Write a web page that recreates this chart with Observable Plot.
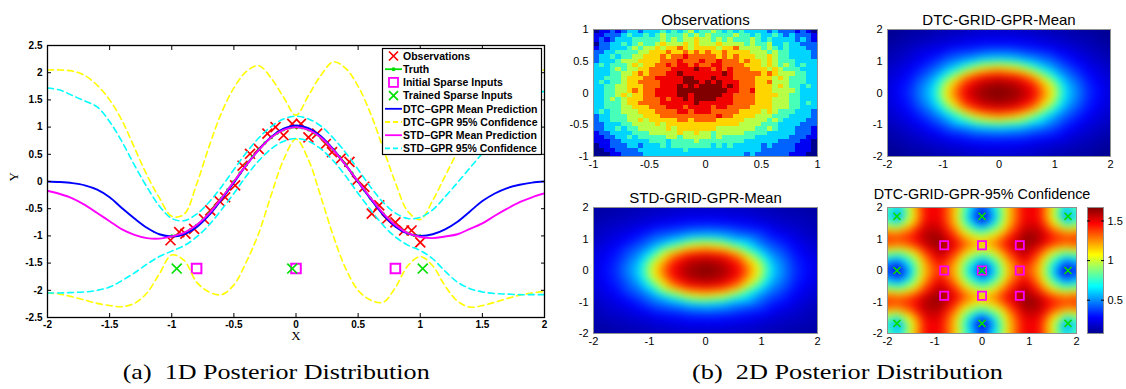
<!DOCTYPE html>
<html>
<head>
<meta charset="utf-8">
<script src="https://cdn.jsdelivr.net/npm/d3@7"></script>
<script src="https://cdn.jsdelivr.net/npm/@observablehq/plot@0.6"></script>
<style>
  html, body { margin: 0; padding: 0; background: #fff; }
  #figure { position: relative; width: 1126px; height: 389px; overflow: hidden; background: #fff; }
  .panel { position: absolute; }
  .panel svg { display: block; overflow: visible; }
</style>
</head>
<body>
<div id="figure"></div>
<script>
// ---------- (a) 1D posterior: sampled curves ----------
const xGrid = [-2.0,-1.9,-1.8,-1.7,-1.6,-1.5,-1.4,-1.3,-1.2,-1.1,-1.0,-0.9,-0.8,-0.7,-0.6,-0.5,-0.4,-0.3,-0.2,-0.1,0.0,
               0.1,0.2,0.3,0.4,0.5,0.6,0.7,0.8,0.9,1.0,1.1,1.2,1.3,1.4,1.5,1.6,1.7,1.8,1.9,2.0];
const dtcMean  = [0.00,-0.01,-0.03,-0.07,-0.15,-0.29,-0.49,-0.68,-0.85,-0.97,-1.01,-0.97,-0.84,-0.62,-0.33,-0.02,0.30,0.58,0.82,0.97,1.03,
                  0.98,0.83,0.59,0.30,-0.01,-0.32,-0.61,-0.83,-0.96,-1.00,-0.97,-0.88,-0.74,-0.55,-0.36,-0.22,-0.12,-0.06,-0.02,0.00];
const dtcUpper = [2.05,2.05,2.03,1.95,1.77,1.50,1.12,0.62,0.12,-0.30,-0.64,-0.60,-0.05,0.64,1.26,1.72,2.02,2.13,1.90,1.55,1.22,
                  1.58,1.95,2.20,2.08,1.75,1.25,0.62,-0.02,-0.55,-0.70,-0.35,0.10,0.55,0.98,1.36,1.68,1.90,2.02,2.05,2.05];
const dtcLower = [-2.05,-2.07,-2.12,-2.18,-2.24,-2.28,-2.30,-2.24,-2.05,-1.70,-1.35,-1.45,-1.85,-2.03,-2.08,-1.90,-1.48,-0.95,-0.25,0.40,0.78,
                  0.40,-0.28,-1.00,-1.60,-2.00,-2.18,-2.22,-1.95,-1.55,-1.38,-1.55,-1.92,-2.20,-2.31,-2.28,-2.22,-2.15,-2.09,-2.05,-2.02];
const stdMean  = [-0.17,-0.23,-0.31,-0.43,-0.58,-0.73,-0.88,-0.98,-1.04,-1.05,-1.01,-0.94,-0.80,-0.59,-0.31,0.00,0.30,0.58,0.81,0.95,1.00,
                  0.95,0.81,0.58,0.30,0.00,-0.30,-0.58,-0.80,-0.95,-1.02,-1.04,-1.01,-0.97,-0.87,-0.77,-0.63,-0.50,-0.38,-0.29,-0.22];
const stdUpper = [1.72,1.68,1.58,1.48,1.37,1.10,0.73,0.30,-0.10,-0.45,-0.68,-0.72,-0.60,-0.38,-0.10,0.22,0.53,0.80,1.01,1.15,1.20,
                  1.15,1.02,0.80,0.53,0.22,-0.10,-0.38,-0.58,-0.68,-0.66,-0.52,-0.28,-0.02,0.25,0.52,0.82,1.12,1.40,1.58,1.66];
const stdLower = [-2.05,-2.05,-2.04,-2.03,-2.00,-1.94,-1.82,-1.68,-1.52,-1.38,-1.28,-1.18,-1.02,-0.80,-0.52,-0.22,0.10,0.38,0.60,0.74,0.79,
                  0.74,0.60,0.38,0.10,-0.22,-0.52,-0.80,-1.02,-1.17,-1.27,-1.42,-1.65,-1.85,-1.97,-2.03,-2.06,-2.07,-2.08,-2.08,-2.08];

const truthX = [-1.00,-0.95,-0.90,-0.85,-0.80,-0.75,-0.70,-0.65,-0.60,-0.55,-0.50,-0.45,-0.40,-0.35,-0.30,-0.25,-0.20,-0.15,-0.10,-0.05,0.00,
                0.05,0.10,0.15,0.20,0.25,0.30,0.35,0.40,0.45,0.50,0.55,0.60,0.65,0.70,0.75,0.80,0.85,0.90,0.95,1.00];
const truthY = [-1.000,-0.988,-0.951,-0.891,-0.809,-0.707,-0.588,-0.454,-0.309,-0.156,0.000,0.156,0.309,0.454,0.588,0.707,0.809,0.891,0.951,0.988,1.000,
                0.988,0.951,0.891,0.809,0.707,0.588,0.454,0.309,0.156,0.000,-0.156,-0.309,-0.454,-0.588,-0.707,-0.809,-0.891,-0.951,-0.988,-1.000];

const obsX = [-1.01,-0.94,-0.89,-0.82,-0.74,-0.69,-0.62,-0.57,-0.49,-0.43,-0.37,-0.30,-0.23,-0.165,-0.10,-0.03,0.04,0.10,0.17,0.24,0.29,
              0.36,0.43,0.49,0.55,0.61,0.67,0.73,0.80,0.87,0.93,1.00];
const obsY = [-1.08,-0.93,-0.96,-0.87,-0.69,-0.53,-0.35,-0.29,-0.07,0.29,0.51,0.60,0.88,1.00,0.85,1.06,1.06,0.81,0.88,0.69,0.54,
              0.42,0.36,0.02,-0.10,-0.59,-0.44,-0.69,-0.75,-0.90,-0.90,-1.12];

const initX = [-0.80, 0.00, 0.80];
const initY = [-1.60, -1.60, -1.60];
const trainedX = [-0.96, -0.03, 1.02];
const trainedY = [-1.60, -1.60, -1.60];

const xTicks1d = [-2,-1.5,-1,-0.5,0,0.5,1,1.5,2];
const yTicks1d = [-2.5,-2,-1.5,-1,-0.5,0,0.5,1,1.5,2,2.5];

const legendLabels = ["Observations", "Truth", "Initial Sparse Inputs", "Trained Sparse Inputs",
  "DTC\u2212GPR Mean Prediction", "DTC\u2212GPR 95% Confidence", "STD\u2212GPR Mean Prediction", "STD\u2212GPR 95% Confidence"];

// ---------- (b) 2D posterior: grids ----------
// Observed values on a 40 x 30 grid over [-1,1]^2, one digit (0..9) per cell, top row first.
const obsLevels = [
  "0112123323 3343434534 4543434333 3232221210",
  "1122234334 3454445454 5444454434 3343232221",
  "1212333444 4454545565 5454544454 3433332321",
  "0223343454 4565556565 5565555454 4533433222",
  "1223334545 5656676566 6656675555 4543433322",
  "2233444455 6667667676 7667666655 5454433332",
  "2334344556 6676778777 7767676665 5654433332",
  "2333455566 6677787778 7787776766 5654443333",
  "3434445656 6778788787 7887777666 5654543433",
  "3334545566 7777888898 8787877766 6565444333",
  "3334455676 7778898888 8889877777 6765554433",
  "3344456667 7888889988 8988877776 6656544433",
  "3434456677 7788889998 9898887776 6755544433",
  "3344556667 7788898989 9998987776 6656544343",
  "3344556767 7888899999 9999887786 6655554333",
  "3344565667 7888899899 9998877776 6665544333",
  "3345456667 7787889899 9988877776 6655544333",
  "3344456677 7788888898 8888877776 6655544343",
  "3344455666 7778887888 8788777766 6655544333",
  "3434455566 6777788788 8777776666 5654443332",
  "2334445556 6677777777 7787766665 5544433332",
  "2334445565 6666677677 7766666555 5454333322",
  "2233344555 5656666666 6666665555 4443333222",
  "2233434455 5556566666 6655555554 4543332221",
  "1223333444 5555565565 5455555444 4333332221",
  "1122334344 4445545555 5454444443 3333322211",
  "1112233333 4443444454 4444444333 3332222110",
  "0112223323 3343444444 4343433333 2322221110",
  "0011222233 3333334333 3333333333 2222221110",
  "0001122223 3333333333 3333333232 2222211100"
];

// Posterior means sampled on a 13 x 13 grid over [-2,2]^2 (rows from y = 2 down to y = -2).
const meanGridX = [-2,-1.6,-1.2,-0.9,-0.6,-0.3,0,0.3,0.6,0.9,1.2,1.6,2];
const meanGridY = [2,1.5,1.1,0.8,0.5,0.25,0,-0.25,-0.5,-0.8,-1.1,-1.5,-2];
const stdMeanGrid = [
  [0.02,0.03,0.04,0.05,0.055,0.06,0.06,0.06,0.055,0.05,0.04,0.03,0.02],
  [0.04,0.06,0.08,0.10,0.12,0.135,0.14,0.135,0.12,0.10,0.08,0.06,0.04],
  [0.05,0.09,0.14,0.21,0.24,0.29,0.31,0.29,0.24,0.21,0.14,0.09,0.05],
  [0.07,0.115,0.20,0.29,0.43,0.59,0.65,0.59,0.43,0.29,0.20,0.115,0.07],
  [0.08,0.145,0.26,0.46,0.73,0.86,0.89,0.86,0.73,0.46,0.26,0.145,0.08],
  [0.09,0.16,0.31,0.61,0.84,0.94,0.97,0.94,0.84,0.61,0.31,0.16,0.09],
  [0.09,0.17,0.33,0.66,0.88,0.97,1.00,0.97,0.88,0.66,0.33,0.17,0.09],
  [0.09,0.16,0.31,0.61,0.84,0.94,0.97,0.94,0.84,0.61,0.31,0.16,0.09],
  [0.08,0.145,0.26,0.46,0.73,0.86,0.89,0.86,0.73,0.46,0.26,0.145,0.08],
  [0.07,0.115,0.20,0.29,0.43,0.59,0.65,0.59,0.43,0.29,0.20,0.115,0.07],
  [0.05,0.09,0.14,0.21,0.24,0.29,0.31,0.29,0.24,0.21,0.14,0.09,0.05],
  [0.04,0.06,0.08,0.10,0.12,0.135,0.14,0.135,0.12,0.10,0.08,0.06,0.04],
  [0.02,0.03,0.04,0.05,0.055,0.06,0.06,0.06,0.055,0.05,0.04,0.03,0.02]
];
const dtcMeanGrid = [
  [0.00,0.02,0.03,0.04,0.05,0.06,0.06,0.06,0.05,0.04,0.03,0.02,0.00],
  [0.02,0.05,0.08,0.10,0.12,0.135,0.14,0.135,0.12,0.10,0.08,0.05,0.02],
  [0.04,0.08,0.14,0.21,0.25,0.30,0.32,0.30,0.25,0.21,0.14,0.08,0.04],
  [0.06,0.11,0.20,0.30,0.45,0.61,0.67,0.61,0.45,0.30,0.20,0.11,0.06],
  [0.07,0.14,0.27,0.48,0.75,0.87,0.90,0.87,0.75,0.48,0.27,0.14,0.07],
  [0.08,0.16,0.32,0.63,0.86,0.95,0.98,0.95,0.86,0.63,0.32,0.16,0.08],
  [0.08,0.17,0.34,0.68,0.90,0.98,1.00,0.98,0.90,0.68,0.34,0.17,0.08],
  [0.08,0.16,0.32,0.63,0.86,0.95,0.98,0.95,0.86,0.63,0.32,0.16,0.08],
  [0.07,0.14,0.27,0.48,0.75,0.87,0.90,0.87,0.75,0.48,0.27,0.14,0.07],
  [0.06,0.11,0.20,0.30,0.45,0.61,0.67,0.61,0.45,0.30,0.20,0.11,0.06],
  [0.04,0.08,0.14,0.21,0.25,0.30,0.32,0.30,0.25,0.21,0.14,0.08,0.04],
  [0.02,0.05,0.08,0.10,0.12,0.135,0.14,0.135,0.12,0.10,0.08,0.05,0.02],
  [0.00,0.02,0.03,0.04,0.05,0.06,0.06,0.06,0.05,0.04,0.03,0.02,0.00]
];

// DTC 95% confidence width sampled on a 15 x 15 grid (rows from y = 2 down to y = -2).
const confGridX = [-2,-1.8,-1.5,-1.2,-0.9,-0.6,-0.3,0,0.3,0.6,0.9,1.2,1.5,1.8,2];
const confGridY = [2,1.75,1.45,1.15,0.85,0.55,0.3,0,-0.3,-0.55,-0.85,-1.15,-1.45,-1.75,-2];
const confGrid = [
  [0.91,0.70,1.10,1.49,1.50,1.21,0.73,0.41,0.73,1.21,1.50,1.49,1.10,0.70,0.91],
  [0.74,0.35,1.00,1.46,1.49,1.18,0.62,0.12,0.62,1.18,1.49,1.46,1.00,0.35,0.74],
  [0.98,0.78,1.14,1.52,1.53,1.23,0.77,0.46,0.77,1.23,1.53,1.52,1.14,0.78,0.98],
  [1.38,1.32,1.41,1.60,1.62,1.40,1.08,0.90,1.08,1.40,1.62,1.60,1.41,1.32,1.38],
  [1.38,1.34,1.40,1.58,1.66,1.52,1.32,1.22,1.32,1.52,1.66,1.58,1.40,1.34,1.38],
  [0.93,0.81,1.02,1.38,1.60,1.40,1.07,0.87,1.07,1.40,1.60,1.38,1.02,0.81,0.93],
  [0.60,0.45,0.76,1.24,1.50,1.27,0.82,0.53,0.82,1.27,1.50,1.24,0.76,0.45,0.60],
  [0.42,0.10,0.61,1.18,1.40,1.21,0.68,0.20,0.68,1.21,1.40,1.18,0.61,0.10,0.42],
  [0.60,0.45,0.76,1.24,1.50,1.27,0.82,0.53,0.82,1.27,1.50,1.24,0.76,0.45,0.60],
  [0.93,0.81,1.02,1.38,1.60,1.40,1.07,0.87,1.07,1.40,1.60,1.38,1.02,0.81,0.93],
  [1.38,1.34,1.40,1.58,1.66,1.52,1.32,1.22,1.32,1.52,1.66,1.58,1.40,1.34,1.38],
  [1.38,1.32,1.41,1.60,1.62,1.40,1.08,0.90,1.08,1.40,1.62,1.60,1.41,1.32,1.38],
  [0.98,0.78,1.14,1.52,1.53,1.23,0.77,0.46,0.77,1.23,1.53,1.52,1.14,0.78,0.98],
  [0.74,0.35,1.00,1.46,1.49,1.18,0.62,0.12,0.62,1.18,1.49,1.46,1.00,0.35,0.74],
  [0.91,0.70,1.10,1.49,1.50,1.21,0.73,0.41,0.73,1.21,1.50,1.49,1.10,0.70,0.91]
];
const confRange = [0.08, 1.67];
const colorbarTicks = [0.5, 1, 1.5];

// Sparse inducing inputs of the 2D model
const init2dX = [-0.8, 0, 0.8];
const init2dY = [0.8, 0, -0.8];
const trained2dX = [-1.8, 0, 1.82];
const trained2dY = [1.72, 0, -1.68];

const ticks1 = [-1, -0.5, 0, 0.5, 1];
const ticks2 = [-2, -1, 0, 1, 2];

// ---------- styling ----------
const SANS = "'Liberation Sans', Arial, Helvetica, sans-serif";
const SERIF = "'Liberation Serif', 'Times New Roman', serif";
const C = {obs: "#ff0000", truth: "#00e000", init: "#ff00ff", trained: "#00e000",
           dtcMean: "#0000ff", dtcConf: "#ffff00", stdMean: "#ff00ff", stdConf: "#00ffff"};
const DASH = "6,4";
const fmt = d => String(d);

const jetStops = [0, 0.125, 0.375, 0.625, 0.875, 1];
const jetColors = ["#00008f", "#0000ff", "#00ffff", "#ffff00", "#ff0000", "#800000"];
const jet = (lo, hi) => ({type: "linear", domain: jetStops.map(t => lo + t * (hi - lo)),
                          range: jetColors, interpolate: "rgb", clamp: true});

const fig = document.getElementById("figure");
function place(node, left, top) {
  const div = document.createElement("div");
  div.className = "panel";
  div.style.left = left + "px";
  div.style.top = top + "px";
  div.appendChild(node);
  fig.appendChild(div);
  return div;
}

// ---------- (a) 1D plot ----------
const curves = xGrid.map((x, i) => ({x, dtcMean: dtcMean[i], dtcUpper: dtcUpper[i], dtcLower: dtcLower[i],
                                     stdMean: stdMean[i], stdUpper: stdUpper[i], stdLower: stdLower[i]}));
const truth = truthX.map((x, i) => ({x, y: truthY[i]}));
const obs = obsX.map((x, i) => ({x, y: obsY[i]}));
const init = initX.map((x, i) => ({x, y: initY[i]}));
const trained = trainedX.map((x, i) => ({x, y: trainedY[i]}));

const line = (y, stroke, dashed) => Plot.line(curves, {x: "x", y, stroke, strokeWidth: dashed ? 1.6 : 1.9,
  strokeDasharray: dashed ? DASH : null, curve: "catmull-rom", clip: true});

const plot1d = Plot.plot({
  width: 560, height: 350,
  marginLeft: 47, marginTop: 45, marginRight: 16, marginBottom: 33,
  x: {domain: [-2, 2], axis: null},
  y: {domain: [-2.5, 2.5], axis: null},
  style: {fontFamily: SANS, fontSize: "10px", fontWeight: "bold", color: "black", background: "transparent", overflow: "visible"},
  marks: [
    Plot.dot(obs, {x: "x", y: "y", symbol: "times", r: 4.6, stroke: C.obs, strokeWidth: 1.7}),
    Plot.line(truth, {x: "x", y: "y", stroke: C.truth, strokeWidth: 1.8}),
    Plot.dot(truth, {x: "x", y: "y", r: 1.7, fill: C.truth}),
    Plot.dot(init, {x: "x", y: "y", symbol: "square", r: 5.4, stroke: C.init, strokeWidth: 2, fill: "none"}),
    Plot.dot(trained, {x: "x", y: "y", symbol: "times", r: 4.6, stroke: C.trained, strokeWidth: 1.7}),
    line("dtcMean", C.dtcMean, false),
    line("dtcUpper", C.dtcConf, true),
    line("dtcLower", C.dtcConf, true),
    line("stdMean", C.stdMean, false),
    line("stdUpper", C.stdConf, true),
    line("stdLower", C.stdConf, true),
    Plot.axisX(xTicks1d, {tickSize: -4, tickPadding: 7, tickFormat: fmt, label: null}),
    Plot.axisX(xTicks1d, {anchor: "top", tickSize: -4, tickFormat: () => "", label: null}),
    Plot.axisY(yTicks1d, {tickSize: -4, tickPadding: 9, tickFormat: fmt, label: null}),
    Plot.axisY(yTicks1d, {anchor: "right", tickSize: -4, tickFormat: () => "", label: null}),
    Plot.frame({stroke: "black", strokeWidth: 1.3}),
    Plot.text(["X"], {frameAnchor: "bottom", dy: 22, fontFamily: SERIF, fontSize: 13, fontWeight: "normal"}),
    Plot.text(["Y"], {frameAnchor: "left", dx: -34, rotate: -90, fontFamily: SERIF, fontSize: 13, fontWeight: "normal"})
  ]
});
place(plot1d, 0, 0);

// legend box inside the 1D plot
const legendStyles = [
  {kind: "x", color: C.obs}, {kind: "lineDot", color: C.truth}, {kind: "square", color: C.init},
  {kind: "x", color: C.trained}, {kind: "line", color: C.dtcMean}, {kind: "dash", color: C.dtcConf},
  {kind: "line", color: C.stdMean}, {kind: "dash", color: C.stdConf}
];
const leg = d3.create("svg").attr("width", 160).attr("height", 107)
  .style("font-family", SANS).style("font-size", "10.5px").style("font-weight", "bold");
leg.append("rect").attr("x", 0.5).attr("y", 0.5).attr("width", 159).attr("height", 106)
  .attr("fill", "white").attr("stroke", "black").attr("stroke-width", 1.2);
legendLabels.forEach((label, i) => {
  const cy = 8 + i * 13.2, st = legendStyles[i], g = leg.append("g");
  if (st.kind === "x") {
    g.append("path").attr("d", `M7,${cy - 4.5}L16,${cy + 4.5}M7,${cy + 4.5}L16,${cy - 4.5}`)
      .attr("stroke", st.color).attr("stroke-width", 1.7);
  } else if (st.kind === "square") {
    g.append("rect").attr("x", 7).attr("y", cy - 4.5).attr("width", 9).attr("height", 9)
      .attr("fill", "none").attr("stroke", st.color).attr("stroke-width", 1.8);
  } else {
    g.append("line").attr("x1", 3).attr("x2", 20).attr("y1", cy).attr("y2", cy)
      .attr("stroke", st.color).attr("stroke-width", 1.8)
      .attr("stroke-dasharray", st.kind === "dash" ? "5,3" : null);
    if (st.kind === "lineDot") g.append("circle").attr("cx", 11.5).attr("cy", cy).attr("r", 2).attr("fill", st.color);
  }
  g.append("text").attr("x", 21).attr("y", cy).attr("dy", "0.36em").text(label);
});
place(leg.node(), 382, 48);

// ---------- (b) 2D heat maps ----------
function heatPanel({width, height, ml, mt, mr, mb, domain, ticks, color, marks, title, titleSize = 15, titleDy = -15}) {
  return Plot.plot({
    width, height, marginLeft: ml, marginTop: mt, marginRight: mr, marginBottom: mb,
    x: {domain, ticks, tickFormat: fmt, tickSize: 0, tickPadding: 4, label: null},
    y: {domain, ticks, tickFormat: fmt, tickSize: 0, tickPadding: 5, label: null},
    color,
    style: {fontFamily: SANS, fontSize: "11px", color: "black", background: "transparent", overflow: "visible"},
    marks: [
      ...marks,
      Plot.frame({stroke: "#909090"}),
      Plot.text([title], {frameAnchor: "top", dy: titleDy, fontSize: titleSize})
    ]
  });
}

// observations: one rectangle per grid cell
const obsRows = obsLevels.map(r => r.replace(/ /g, ""));
const obsCells = obsRows.flatMap((row, j) => [...row].map((ch, i) => ({
  x1: -1 + i * 2 / row.length, x2: -1 + (i + 1) * 2 / row.length,
  y1: 1 - j * 2 / obsRows.length, y2: 1 - (j + 1) * 2 / obsRows.length, v: +ch
})));
place(heatPanel({
  width: 280, height: 180, ml: 33, mt: 29, mr: 23, mb: 24, domain: [-1, 1], ticks: ticks1,
  color: jet(0, 9), title: "Observations",
  marks: [Plot.rect(obsCells, {x1: "x1", x2: "x2", y1: "y1", y2: "y2", fill: "v", shapeRendering: "crispEdges"})]
}), 560, 0);

const gridPoints = (xs, ys, rows) => rows.flatMap((row, j) => row.map((v, i) => ({x: xs[i], y: ys[j], v})));
const smooth = (pts, blur) => Plot.raster(pts, {x: "x", y: "y", fill: "v", interpolate: "barycentric",
  pixelSize: 2, blur, x1: -2, x2: 2, y1: -2, y2: 2});

place(heatPanel({
  width: 286, height: 180, ml: 47, mt: 29, mr: 16, mb: 24, domain: [-2, 2], ticks: ticks2,
  color: jet(0, 1), title: "DTC-GRID-GPR-Mean",
  marks: [smooth(gridPoints(meanGridX, meanGridY, dtcMeanGrid), 1.5)]
}), 840, 0);

place(heatPanel({
  width: 280, height: 170, ml: 33, mt: 27, mr: 23, mb: 17, domain: [-2, 2], ticks: ticks2,
  color: jet(0, 1), title: "STD-GRID-GPR-Mean",
  marks: [smooth(gridPoints(meanGridX, meanGridY, stdMeanGrid), 1.5)]
}), 560, 180);

const init2d = d3.cross(init2dX, init2dY, (x, y) => ({x, y}));
const trained2d = d3.cross(trained2dX, trained2dY, (x, y) => ({x, y}));
place(heatPanel({
  width: 245, height: 170, ml: 47, mt: 27, mr: 9, mb: 17, domain: [-2, 2], ticks: ticks2,
  color: jet(confRange[0], confRange[1]), title: "DTC-GRID-GPR-95% Confidence",
  titleSize: 14.4, titleDy: -19,
  marks: [
    smooth(gridPoints(confGridX, confGridY, confGrid), 1.5),
    Plot.dot(init2d, {x: "x", y: "y", symbol: "square", r: 4.6, stroke: C.init, strokeWidth: 1.8, fill: "none"}),
    Plot.dot(trained2d, {x: "x", y: "y", symbol: "times", r: 3.3, stroke: C.trained, strokeWidth: 1.6})
  ]
}), 840, 180);

// colour bar
place(Plot.plot({
  width: 46, height: 170, marginLeft: 7, marginRight: 23, marginTop: 27, marginBottom: 17,
  x: {domain: [0, 1], axis: null},
  y: {domain: confRange, axis: null},
  color: jet(confRange[0], confRange[1]),
  style: {fontFamily: SANS, fontSize: "11px", color: "black", background: "transparent", overflow: "visible"},
  marks: [
    Plot.raster({fill: (x, y) => y, x1: 0, x2: 1, y1: confRange[0], y2: confRange[1], pixelSize: 1}),
    Plot.frame({stroke: "#909090"}),
    Plot.axisY(colorbarTicks, {anchor: "right", tickSize: -3, tickPadding: 7, tickFormat: fmt, label: null}),
    Plot.axisY(colorbarTicks, {anchor: "left", tickSize: -3, tickFormat: () => "", label: null})
  ]
}), 1080, 180);

// ---------- sub-figure captions ----------
const cap = d3.create("svg").attr("width", 1126).attr("height", 49)
  .style("font-family", SERIF).style("font-size", "22px");
cap.append("text").attr("x", 122.7).attr("y", 39).attr("textLength", 307).attr("lengthAdjust", "spacingAndGlyphs")
  .attr("xml:space", "preserve").style("white-space", "pre").text("(a)  1D Posterior Distribution");
cap.append("text").attr("x", 692).attr("y", 39).attr("textLength", 311).attr("lengthAdjust", "spacingAndGlyphs")
  .attr("xml:space", "preserve").style("white-space", "pre").text("(b)  2D Posterior Distribution");
place(cap.node(), 0, 340);
</script>
</body>
</html>
